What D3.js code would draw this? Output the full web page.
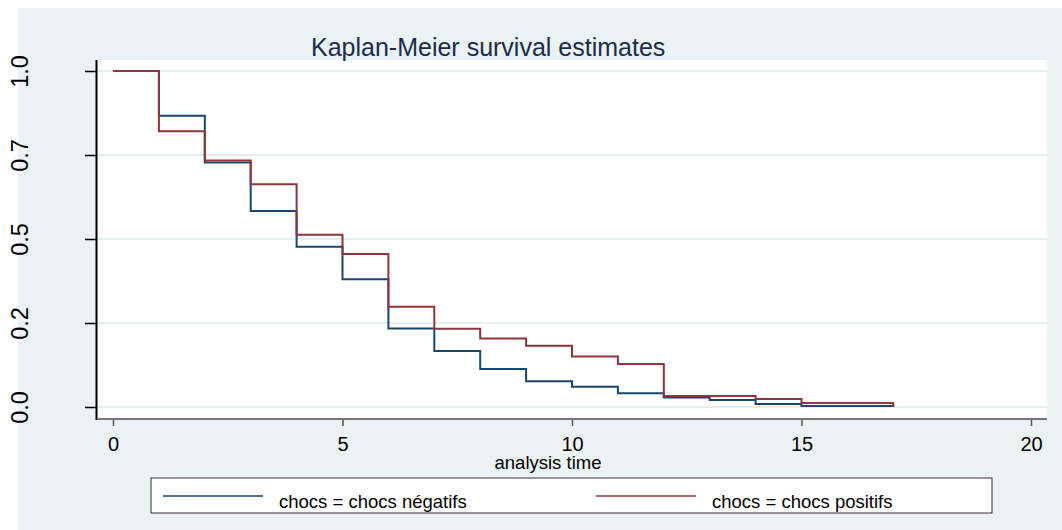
<!DOCTYPE html>
<html>
<head>
<meta charset="utf-8">
<script src="https://cdn.jsdelivr.net/npm/d3@7"></script>
<style>
  body { margin: 0; background: #fff; }
  text { font-family: "Liberation Sans", Arial, sans-serif; }
</style>
</head>
<body>
<div id="chart"></div>
<script>
// KM estimates
var times = [0, 1, 2, 3, 4, 5, 6, 7, 8, 9, 10, 11, 12, 13, 14, 15, 16, 17]
var survNeg = [1, 0.867, 0.728, 0.583, 0.477, 0.380, 0.234, 0.167, 0.113, 0.077, 0.060, 0.041, 0.028, 0.021, 0.009, 0.003, 0.003, 0]
var survPos = [1, 0.821, 0.734, 0.663, 0.513, 0.455, 0.298, 0.233, 0.204, 0.182, 0.150, 0.128, 0.033, 0.033, 0.024, 0.012, 0.012, 0]
var seriesNames = ["chocs = chocs négatifs", "chocs = chocs positifs"]
var xTicks = [0, 5, 10, 15, 20]
var yTicks = [0, 0.25, 0.5, 0.75, 1]
var yTickLabels = ["0.0", "0.2", "0.5", "0.7", "1.0"]

var W = 1062, H = 530
var plot = {left: 97, right: 1047, top: 60, bottom: 419}
var colors = ["#1a476f", "#90353b"]

var svg = d3.select("#chart").append("svg")
    .attr("width", W)
    .attr("height", H)

// outer region
svg.append("rect")
    .attr("x", 18).attr("y", 8)
    .attr("width", W - 18).attr("height", H - 8)
    .attr("fill", "#eaf2f3")

svg.append("rect")
    .attr("x", plot.left).attr("y", plot.top)
    .attr("width", plot.right - plot.left).attr("height", plot.bottom - plot.top)
    .attr("fill", "#fff")

var x = d3.scaleLinear().domain([0, 20]).range([113, 1031])
var y = d3.scaleLinear().domain([0, 1]).range([407, 71])

// grid
svg.append("g").selectAll("line")
    .data(yTicks)
    .enter().append("line")
    .attr("x1", plot.left).attr("x2", plot.right)
    .attr("y1", d => y(d)).attr("y2", d => y(d))
    .attr("stroke", "#e6eef0")
    .attr("stroke-width", 2)

// Y axis
var yaxis = svg.append("g")
    .attr("transform", "translate(" + plot.left + ",0)")
    .call(d3.axisLeft(y).tickValues(yTicks).tickSize(12).tickFormat((d, i) => yTickLabels[i]))
yaxis.select(".domain").remove()
yaxis.selectAll(".tick line").attr("stroke", "#000").attr("stroke-width", 1.5)
yaxis.selectAll(".tick text").remove()
yaxis.selectAll(".tick").append("text")
    .attr("transform", "translate(-77,0) rotate(-90)")
    .attr("text-anchor", "middle")
    .attr("dy", "0.35em")
    .attr("fill", "#000")
    .style("font-size", "23.5px")
    .text((d, i) => yTickLabels[i])
svg.append("line")
    .attr("x1", plot.left - 0.5).attr("x2", plot.left - 0.5)
    .attr("y1", plot.top).attr("y2", plot.bottom + 1)
    .attr("stroke", "#000").attr("stroke-width", 2)

// X axis
var xaxis = svg.append("g")
    .attr("transform", "translate(0," + plot.bottom + ")")
    .call(d3.axisBottom(x).tickValues(xTicks).tickSize(7).tickPadding(11))
xaxis.select(".domain").remove()
xaxis.selectAll(".tick line").attr("stroke", "#555").attr("stroke-width", 1.5)
xaxis.selectAll(".tick text")
    .attr("fill", "#000")
    .style("font-size", "20px")
    .style("font-family", "'Liberation Sans', Arial, sans-serif")
svg.append("line")
    .attr("x1", plot.left).attr("x2", plot.right)
    .attr("y1", plot.bottom).attr("y2", plot.bottom)
    .attr("stroke", "#777").attr("stroke-width", 2)

svg.append("text")
    .attr("x", 548).attr("y", 469)
    .attr("text-anchor", "middle")
    .style("font-size", "18.5px")
    .text("analysis time")

// title
svg.append("text")
    .attr("x", 311).attr("y", 56)
    .attr("fill", "#1c2b4c")
    .style("font-size", "25px")
    .text("Kaplan-Meier survival estimates")

// curves
var line = d3.line()
    .x(d => x(d[0]))
    .y(d => y(d[1]))
    .curve(d3.curveStepAfter)

var curves = [survNeg, survPos].map(s => times.map((t, i) => [t, s[i]]))

svg.append("g").selectAll("path")
    .data(curves)
    .enter().append("path")
    .attr("d", d => line(d))
    .attr("fill", "none")
    .attr("stroke", (d, i) => colors[i])
    .attr("stroke-width", 2)

// legend
var legend = svg.append("g")
legend.append("rect")
    .attr("x", 151).attr("y", 478)
    .attr("width", 841).attr("height", 35)
    .attr("fill", "#fff")
    .attr("stroke", "#333").attr("stroke-width", 1)

var legX = [163, 596]
legend.selectAll("line")
    .data(seriesNames)
    .enter().append("line")
    .attr("x1", (d, i) => legX[i]).attr("x2", (d, i) => legX[i] + 100)
    .attr("y1", 496).attr("y2", 496)
    .attr("stroke", (d, i) => colors[i])
    .attr("stroke-width", 1.6)
legend.selectAll("text")
    .data(seriesNames)
    .enter().append("text")
    .attr("x", (d, i) => legX[i] + 116)
    .attr("y", 508)
    .style("font-size", "18.5px")
    .text(d => d)
</script>
</body>
</html>
